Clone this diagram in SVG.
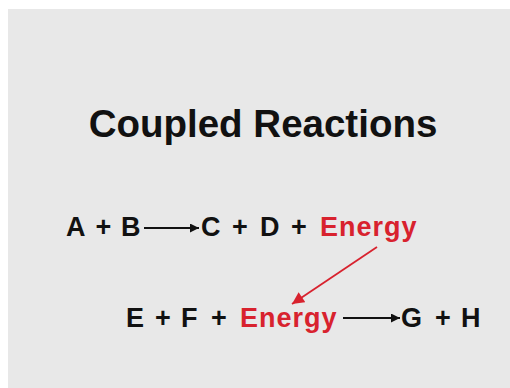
<svg xmlns="http://www.w3.org/2000/svg" width="510" height="388" viewBox="0 0 510 388">
<style>
.t{font-family:"Liberation Sans",Arial,Helvetica,sans-serif;font-weight:bold;font-size:27px;fill:#111}
.r{fill:#d8222e;letter-spacing:1px}
.title{font-family:"Liberation Sans",Arial,Helvetica,sans-serif;font-weight:bold;font-size:38.5px;fill:#111}
</style>
<defs>
<marker id="ab" viewBox="0 0 10 10" refX="10" refY="5" markerWidth="10" markerHeight="9" markerUnits="userSpaceOnUse" orient="auto">
<path d="M0,0 L10,5 L0,10 z" fill="#111"/>
</marker>
<marker id="ar" viewBox="0 0 10 10" refX="10" refY="5" markerWidth="13" markerHeight="12" markerUnits="userSpaceOnUse" orient="auto">
<path d="M0,0 L10,5 L0,10 z" fill="#d8222e"/>
</marker>
</defs>
<rect width="510" height="388" fill="#fff"/>
<rect x="8" y="9" width="502" height="379" fill="#e8e8e8"/>
<g id="title"><text class="title" x="263" y="137" text-anchor="middle">Coupled Reactions</text></g>
<g id="r1-reactants"><text class="t" y="236"><tspan x="66">A</tspan><tspan x="95.6">+</tspan><tspan x="121">B</tspan></text></g>
<g id="r1-products"><text class="t" y="236"><tspan x="201">C</tspan><tspan x="232">+</tspan><tspan x="260">D</tspan><tspan x="291">+</tspan></text></g>
<g id="energy1"><text class="t r" x="320" y="236">Energy</text></g>
<g id="r2-reactants"><text class="t" y="327"><tspan x="126">E</tspan><tspan x="155">+</tspan><tspan x="181">F</tspan><tspan x="211">+</tspan></text></g>
<g id="energy2"><text class="t r" x="240" y="327">Energy</text></g>
<g id="r2-products"><text class="t" y="327"><tspan x="401">G</tspan><tspan x="435">+</tspan><tspan x="461">H</tspan></text></g>
<g id="connectors" fill="none">
<line x1="144" y1="228" x2="199" y2="228" stroke="#111" stroke-width="2" marker-end="url(#ab)"/>
<line x1="343" y1="318" x2="400" y2="318" stroke="#111" stroke-width="2" marker-end="url(#ab)"/>
<line x1="377" y1="247" x2="292" y2="304" stroke="#d8222e" stroke-width="1.8" marker-end="url(#ar)"/>
</g>
</svg>
